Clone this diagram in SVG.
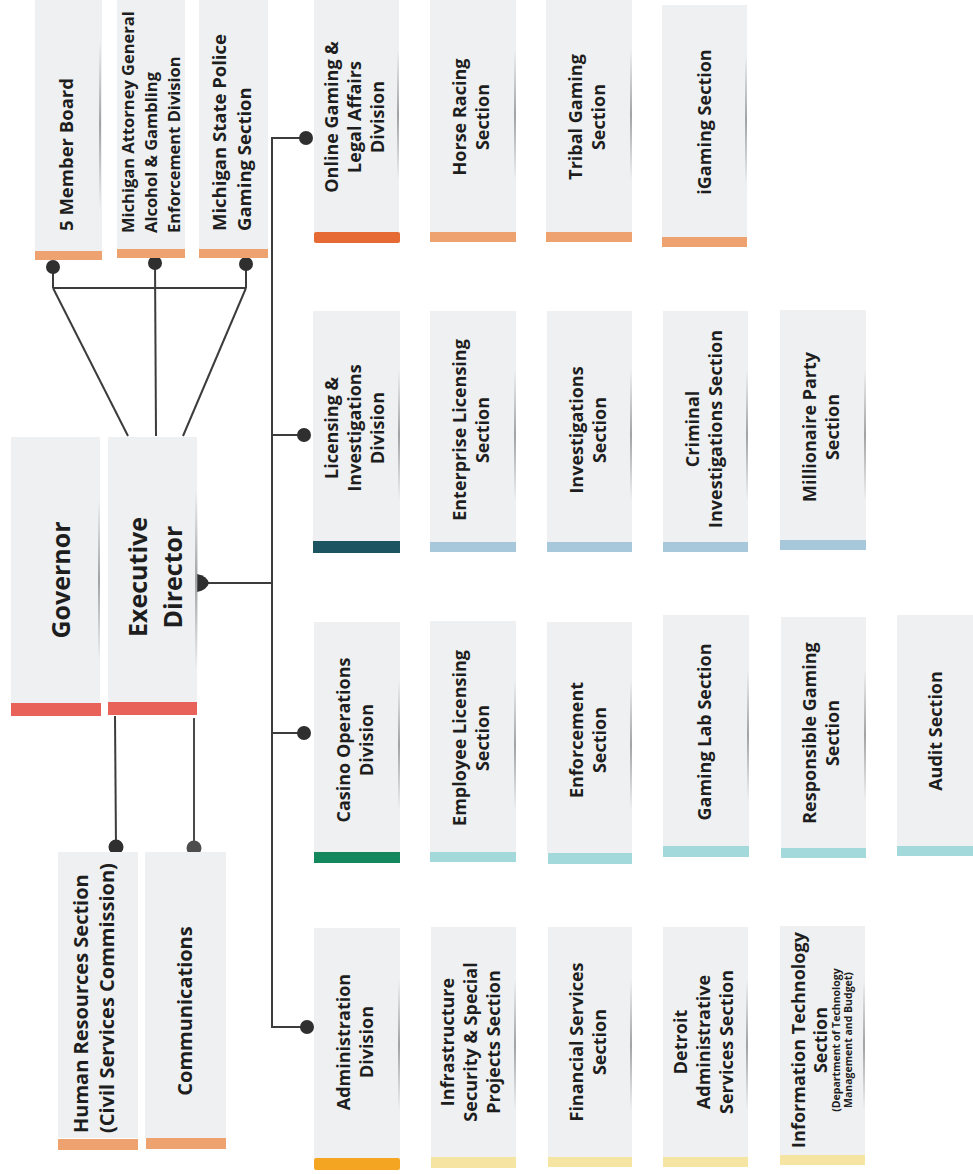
<svg xmlns="http://www.w3.org/2000/svg" width="973" height="1174" viewBox="0 0 973 1174">
<defs>
<linearGradient id="sh" x1="0" y1="0" x2="0" y2="1">
<stop offset="0" stop-color="#8d8f91" stop-opacity="0"/>
<stop offset="0.5" stop-color="#8d8f91" stop-opacity="0.8"/>
<stop offset="1" stop-color="#8d8f91" stop-opacity="0"/>
</linearGradient>
</defs>
<style>
.box{fill:#eef0f1}
.t{font-family:"Open Sans","Liberation Sans",sans-serif;font-weight:700;fill:#1e1e1e}
.f25{font-size:25px}.f20{font-size:20px}.f18{font-size:18px}.f185{font-size:18.5px}.f16{font-size:16.5px}.f10{font-size:10.5px}
.m{text-anchor:middle}.st{text-anchor:start}
.c{stroke:#3c3c3c;stroke-width:2;fill:none}
.dot{fill:#2f2f2f}
.red{fill:#e8625a}.or{fill:#eea270}.dor{fill:#e56a33}.teal{fill:#1d5461}.lb{fill:#a7c8db}
.grn{fill:#12885c}.lt{fill:#a4d9dc}.yor{fill:#f4a522}.py{fill:#f6e4a2}
.sh{fill:url(#sh)}
</style>
<rect width="973" height="1174" fill="#ffffff"/>

<g id="connectors">
<line class="c" x1="53" y1="266" x2="53" y2="288"/>
<line class="c" x1="246" y1="264" x2="246" y2="288"/>
<line class="c" x1="53" y1="288" x2="246" y2="288"/>
<line class="c" x1="155" y1="263" x2="156" y2="436"/>
<line class="c" x1="53" y1="288" x2="128" y2="436"/>
<line class="c" x1="246" y1="288" x2="183" y2="436"/>
<circle class="dot" cx="53" cy="267" r="7"/>
<circle class="dot" cx="155" cy="263" r="7"/>
<circle class="dot" cx="246" cy="264" r="7"/>
<line class="c" x1="200" y1="583" x2="272" y2="583"/>
<path class="dot" d="M197 574 Q207 576 209 583 Q207 590 197 592 Z"/>
<line class="c" x1="272" y1="138" x2="272" y2="1027"/>
<line class="c" x1="271" y1="138" x2="306" y2="138"/>
<line class="c" x1="271" y1="435" x2="304" y2="435"/>
<line class="c" x1="271" y1="733" x2="304" y2="733"/>
<line class="c" x1="271" y1="1027" x2="307" y2="1027"/>
<circle class="dot" cx="306" cy="138" r="7"/>
<circle class="dot" cx="304" cy="435" r="7"/>
<circle class="dot" cx="304" cy="733" r="7"/>
<circle class="dot" cx="307" cy="1027" r="7"/>
<line class="c" x1="115" y1="716" x2="116" y2="847"/>
<line class="c" x1="194" y1="718" x2="194" y2="848" style="stroke:#4a4a4a"/>
<circle class="dot" cx="116" cy="847" r="7.5"/>
<circle class="dot" cx="194" cy="848" r="7.5" style="fill:#4d4d4d"/>
</g>

<g id="n-board">
<rect class="box" x="35" y="0" width="67" height="251"/>
<rect class="sh" x="99" y="40" width="2" height="170"/>
<rect class="or" x="35" y="251" width="67" height="9"/>
<text class="t f185 st" transform="rotate(-90)"><tspan x="-231" y="73">5 Member Board</tspan></text>
</g>
<g id="n-ag">
<rect class="box" x="117" y="0" width="68" height="249"/>
<rect class="or" x="117" y="249" width="68" height="9"/>
<text class="t f16 st" transform="rotate(-90)"><tspan x="-233" y="134">Michigan Attorney General</tspan><tspan x="-233" y="157">Alcohol &amp; Gambling</tspan><tspan x="-233" y="180">Enforcement Division</tspan></text>
</g>
<g id="n-msp">
<rect class="box" x="199" y="0" width="69" height="249"/>
<rect class="or" x="199" y="249" width="69" height="9"/>
<text class="t f185 st" transform="rotate(-90)"><tspan x="-231" y="226">Michigan State Police</tspan><tspan x="-231" y="251">Gaming Section</tspan></text>
</g>

<g id="n-governor">
<rect class="box" x="11" y="437" width="89" height="266"/>
<rect class="sh" x="98" y="500" width="2" height="160"/>
<rect class="red" x="11" y="703" width="90" height="13"/>
<text class="t f25 m" transform="rotate(-90)"><tspan x="-580" y="70">Governor</tspan></text>
</g>
<g id="n-exec">
<rect class="box" x="108" y="437" width="89" height="265"/>
<rect class="sh" x="195" y="490" width="2.5" height="180"/>
<rect class="red" x="108" y="702" width="89" height="13"/>
<text class="t f25 m" transform="rotate(-90)"><tspan x="-577" y="147">Executive</tspan><tspan x="-577" y="182">Director</tspan></text>
</g>

<g id="n-hr">
<rect class="box" x="58" y="852" width="80" height="286"/>
<rect class="or" x="58" y="1139" width="80" height="11"/>
<text class="t f20 st" transform="rotate(-90)"><tspan x="-1133" y="88">Human Resources Section</tspan><tspan x="-1133" y="114">(Civil Services Commission)</tspan></text>
</g>
<g id="n-comm">
<rect class="box" x="145" y="852" width="81" height="286"/>
<rect class="or" x="146" y="1138" width="80" height="11"/>
<text class="t f20 m" transform="rotate(-90)"><tspan x="-1011" y="192">Communications</tspan></text>
</g>

<!-- Row 1 -->
<g id="n-online">
<rect class="box" x="314" y="0" width="85" height="232"/>
<rect class="sh" x="397" y="50" width="2" height="130"/>
<rect class="dor" x="314" y="232" width="86" height="11" rx="2"/>
<text class="t f18 m" transform="rotate(-90)"><tspan x="-117" y="338">Online Gaming &amp;</tspan><tspan x="-117" y="361">Legal Affairs</tspan><tspan x="-117" y="384">Division</tspan></text>
</g>
<g id="n-horse">
<rect class="box" x="430" y="0" width="86" height="232"/>
<rect class="sh" x="514" y="50" width="2" height="130"/>
<rect class="or" x="430" y="232" width="86" height="10"/>
<text class="t f18 m" transform="rotate(-90)"><tspan x="-117" y="466">Horse Racing</tspan><tspan x="-117" y="489">Section</tspan></text>
</g>
<g id="n-tribal">
<rect class="box" x="546" y="0" width="86" height="232"/>
<rect class="sh" x="630" y="50" width="2" height="130"/>
<rect class="or" x="546" y="232" width="86" height="10"/>
<text class="t f18 m" transform="rotate(-90)"><tspan x="-117" y="582">Tribal Gaming</tspan><tspan x="-117" y="605">Section</tspan></text>
</g>
<g id="n-igaming">
<rect class="box" x="662" y="5" width="85" height="232"/>
<rect class="sh" x="745" y="55" width="2" height="130"/>
<rect class="or" x="662" y="237" width="85" height="10"/>
<text class="t f18 m" transform="rotate(-90)"><tspan x="-122" y="711">iGaming Section</tspan></text>
</g>

<!-- Row 2 -->
<g id="n-licensing">
<rect class="box" x="313" y="311" width="87" height="230"/>
<rect class="sh" x="398" y="370" width="2" height="130"/>
<rect class="teal" x="313" y="541" width="87" height="12"/>
<text class="t f18 m" transform="rotate(-90)"><tspan x="-428" y="338">Licensing &amp;</tspan><tspan x="-428" y="361">Investigations</tspan><tspan x="-428" y="384">Division</tspan></text>
</g>
<g id="n-enterprise">
<rect class="box" x="430" y="311" width="86" height="231"/>
<rect class="sh" x="514" y="370" width="2" height="130"/>
<rect class="lb" x="430" y="542" width="86" height="10"/>
<text class="t f18 m" transform="rotate(-90)"><tspan x="-430" y="466">Enterprise Licensing</tspan><tspan x="-430" y="489">Section</tspan></text>
</g>
<g id="n-investigations">
<rect class="box" x="547" y="311" width="85" height="231"/>
<rect class="sh" x="630" y="370" width="2" height="130"/>
<rect class="lb" x="547" y="542" width="85" height="10"/>
<text class="t f18 m" transform="rotate(-90)"><tspan x="-430" y="583">Investigations</tspan><tspan x="-430" y="606">Section</tspan></text>
</g>
<g id="n-criminal">
<rect class="box" x="663" y="311" width="85" height="231"/>
<rect class="sh" x="746" y="370" width="2" height="130"/>
<rect class="lb" x="663" y="542" width="85" height="10"/>
<text class="t f18 m" transform="rotate(-90)"><tspan x="-429" y="699">Criminal</tspan><tspan x="-429" y="722">Investigations Section</tspan></text>
</g>
<g id="n-millionaire">
<rect class="box" x="780" y="310" width="86" height="230"/>
<rect class="sh" x="864" y="370" width="2" height="130"/>
<rect class="lb" x="780" y="540" width="86" height="10"/>
<text class="t f18 m" transform="rotate(-90)"><tspan x="-427" y="816">Millionaire Party</tspan><tspan x="-427" y="839">Section</tspan></text>
</g>

<!-- Row 3 -->
<g id="n-casino">
<rect class="box" x="314" y="622" width="86" height="230"/>
<rect class="sh" x="398" y="680" width="2" height="130"/>
<rect class="grn" x="314" y="852" width="86" height="11"/>
<text class="t f18 m" transform="rotate(-90)"><tspan x="-740" y="350">Casino Operations</tspan><tspan x="-740" y="373">Division</tspan></text>
</g>
<g id="n-employee">
<rect class="box" x="430" y="621" width="86" height="231"/>
<rect class="sh" x="514" y="680" width="2" height="130"/>
<rect class="lt" x="430" y="852" width="86" height="10"/>
<text class="t f18 m" transform="rotate(-90)"><tspan x="-738" y="466">Employee Licensing</tspan><tspan x="-738" y="489">Section</tspan></text>
</g>
<g id="n-enforcement">
<rect class="box" x="547" y="622" width="85" height="231"/>
<rect class="sh" x="630" y="680" width="2" height="130"/>
<rect class="lt" x="548" y="853" width="84" height="11"/>
<text class="t f18 m" transform="rotate(-90)"><tspan x="-740" y="583">Enforcement</tspan><tspan x="-740" y="606">Section</tspan></text>
</g>
<g id="n-gaminglab">
<rect class="box" x="663" y="615" width="86" height="231"/>
<rect class="sh" x="747" y="670" width="2" height="130"/>
<rect class="lt" x="663" y="846" width="86" height="11"/>
<text class="t f18 m" transform="rotate(-90)"><tspan x="-732" y="711">Gaming Lab Section</tspan></text>
</g>
<g id="n-responsible">
<rect class="box" x="781" y="617" width="85" height="231"/>
<rect class="sh" x="864" y="670" width="2" height="130"/>
<rect class="lt" x="781" y="848" width="85" height="10"/>
<text class="t f18 m" transform="rotate(-90)"><tspan x="-733" y="816">Responsible Gaming</tspan><tspan x="-733" y="839">Section</tspan></text>
</g>
<g id="n-audit">
<rect class="box" x="897" y="615" width="76" height="231"/>
<rect class="lt" x="897" y="846" width="76" height="10"/>
<text class="t f18 m" transform="rotate(-90)"><tspan x="-731" y="942">Audit Section</tspan></text>
</g>

<!-- Row 4 -->
<g id="n-admin">
<rect class="box" x="314" y="928" width="86" height="230"/>
<rect class="sh" x="398" y="980" width="2" height="130"/>
<rect class="yor" x="314" y="1158" width="86" height="12" rx="2"/>
<text class="t f18 m" transform="rotate(-90)"><tspan x="-1042" y="350">Administration</tspan><tspan x="-1042" y="373">Division</tspan></text>
</g>
<g id="n-infra">
<rect class="box" x="431" y="927" width="85" height="230"/>
<rect class="sh" x="514" y="980" width="2" height="130"/>
<rect class="py" x="431" y="1157" width="85" height="11"/>
<text class="t f18 m" transform="rotate(-90)"><tspan x="-1042" y="454">Infrastructure</tspan><tspan x="-1042" y="477">Security &amp; Special</tspan><tspan x="-1042" y="500">Projects Section</tspan></text>
</g>
<g id="n-financial">
<rect class="box" x="548" y="927" width="84" height="230"/>
<rect class="sh" x="630" y="980" width="2" height="130"/>
<rect class="py" x="548" y="1157" width="84" height="10"/>
<text class="t f18 m" transform="rotate(-90)"><tspan x="-1042" y="583">Financial Services</tspan><tspan x="-1042" y="606">Section</tspan></text>
</g>
<g id="n-detroit">
<rect class="box" x="663" y="927" width="85" height="230"/>
<rect class="sh" x="746" y="980" width="2" height="130"/>
<rect class="py" x="663" y="1157" width="85" height="10"/>
<text class="t f18 m" transform="rotate(-90)"><tspan x="-1042" y="687">Detroit</tspan><tspan x="-1042" y="710">Administrative</tspan><tspan x="-1042" y="733">Services Section</tspan></text>
</g>
<g id="n-it">
<rect class="box" x="780" y="926" width="85" height="229"/>
<rect class="sh" x="863" y="980" width="2" height="130"/>
<rect class="py" x="780" y="1155" width="85" height="10"/>
<text class="t f18 m" transform="rotate(-90)"><tspan x="-1040" y="805">Information Technology</tspan><tspan x="-1040" y="827">Section</tspan><tspan class="f10" x="-1040" y="840">(Department of Technology</tspan><tspan class="f10" x="-1040" y="852">Management and Budget)</tspan></text>
</g>
</svg>
